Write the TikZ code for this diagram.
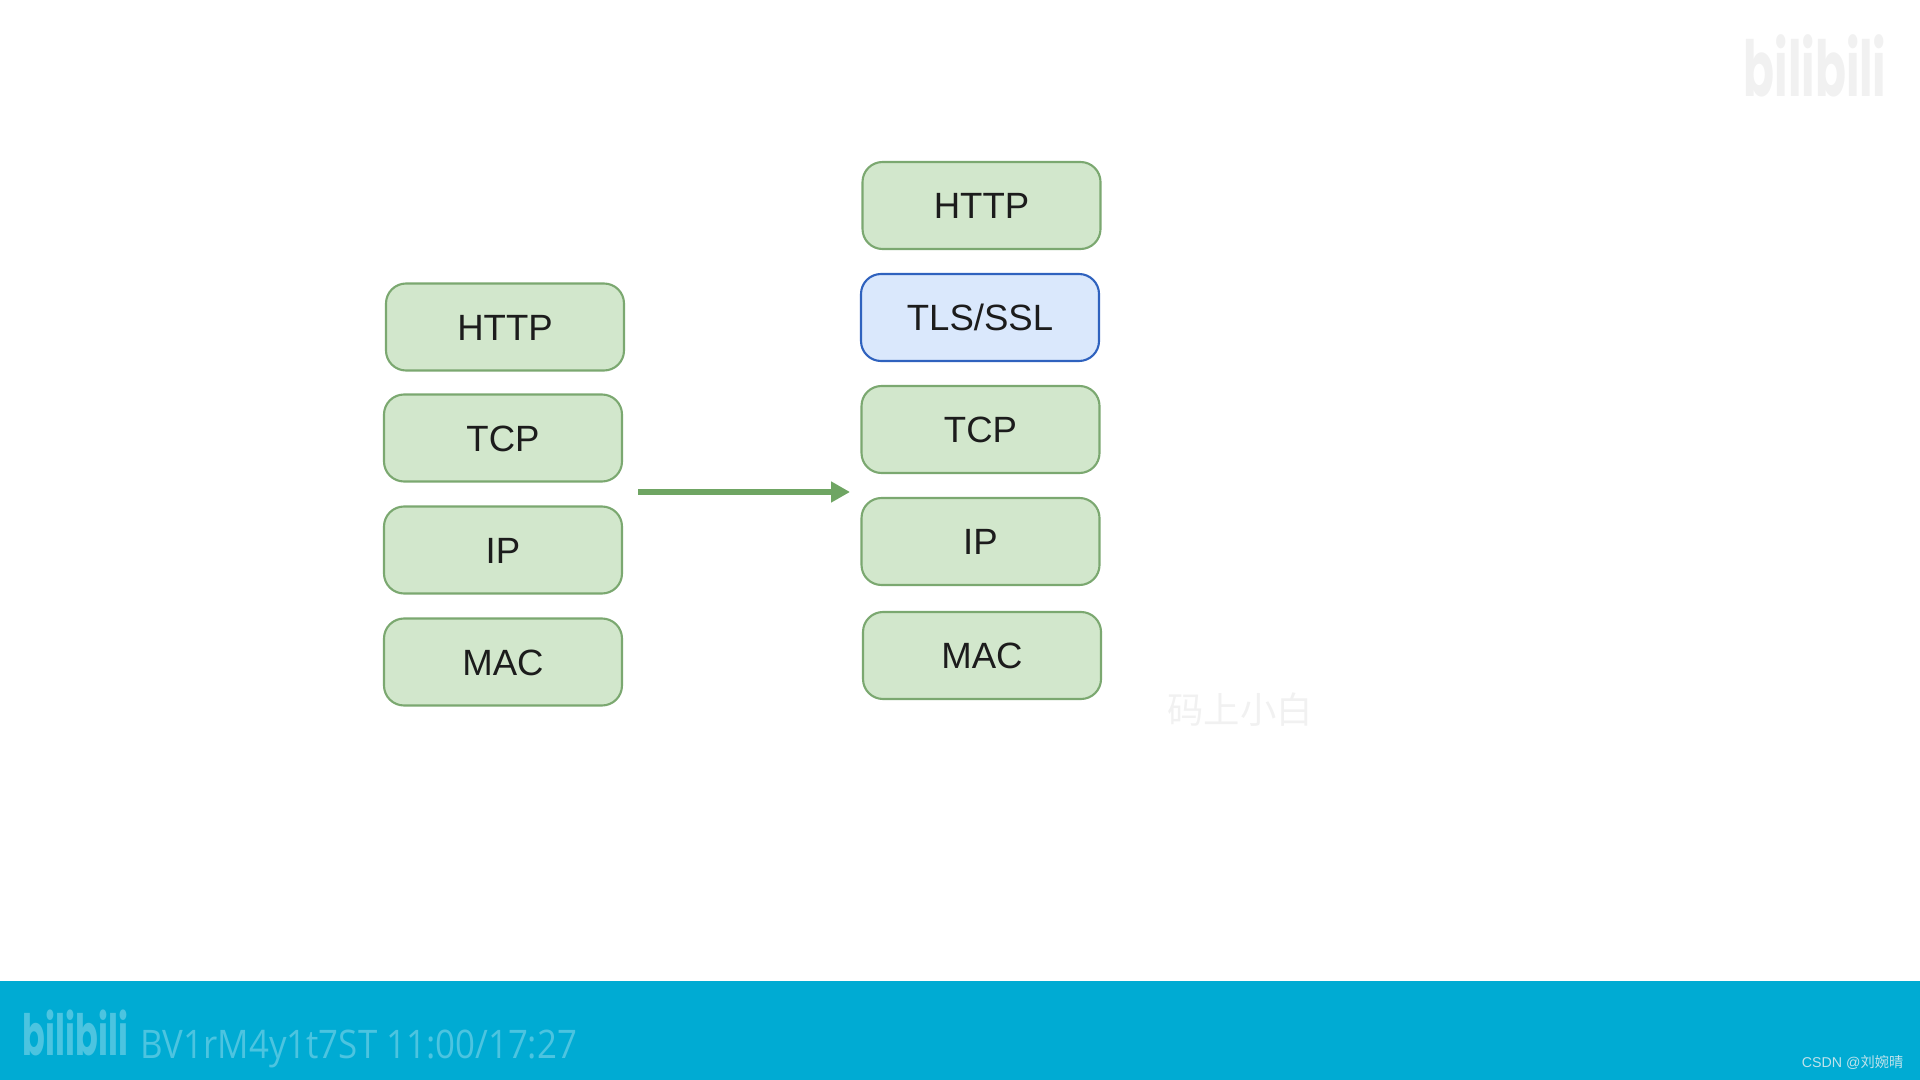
\documentclass[tikz,border=0pt]{standalone}
\usepackage{xcolor}
\usepackage{fontspec}
\setmainfont{Liberation Sans}
\newfontfamily\cjkfont{Noto Sans CJK SC}
\newfontfamily\thinfont[FakeStretch=0.885]{Open Sans}
\newfontfamily\logofont[FakeStretch=0.59]{Poppins}
\usetikzlibrary{positioning, arrows.meta}
\definecolor{layergreen}{HTML}{D2E7CC}
\definecolor{layeredge}{HTML}{7BA870}
\definecolor{tlsblue}{HTML}{DAE8FC}
\definecolor{tlsedge}{HTML}{2F62BE}
\definecolor{arrowgreen}{HTML}{6FA563}
\definecolor{barblue}{HTML}{00ABD3}
\definecolor{bartext}{HTML}{4CC4E0}
\definecolor{marktext}{HTML}{F1F1F1}
\definecolor{inktext}{HTML}{1C1C1C}
\definecolor{csdntext}{HTML}{BFE3EC}

\begin{document}
\begin{tikzpicture}[
      layerbox/.style={rectangle, rounded corners=0.2cm, draw=layeredge, fill=layergreen, line width=0.6pt,
        minimum width=2.38cm, minimum height=0.87cm, inner sep=0pt, outer sep=0pt, text=inktext,
        font=\fontsize{10.4}{12}\selectfont, text height=7.6pt, text depth=0pt},
      tlsbox/.style={layerbox, draw=tlsedge, fill=tlsblue},
      myarrow/.style={-{Triangle[length=0.19cm, width=0.2cm]}, line width=1.6pt, color=arrowgreen},
      logotext/.style={inner sep=0pt, font=\logofont\bfseries\fontsize{#1}{#1}\selectfont}
    ]
    \useasboundingbox (0,0) rectangle (19.2,-10.8);
    % Bottom bar
    \fill[barblue] (0,-9.81) rectangle (19.2,-10.8);
    % Left stack
    \node[layerbox] (lhttp) at (5.05,-3.27) {HTTP};
    \node[layerbox, below=0.24cm of lhttp, xshift=-0.02cm] (ltcp) {TCP};
    \node[layerbox, below=0.25cm of ltcp] (lip) {IP};
    \node[layerbox, below=0.25cm of lip] (lmac) {MAC};
    % Right stack
    \node[layerbox] (rhttp) at (9.815,-2.055) {HTTP};
    \node[tlsbox, below=0.25cm of rhttp, xshift=-0.015cm] (rtls) {TLS/SSL};
    \node[layerbox, below=0.25cm of rtls, xshift=0.005cm] (rtcp) {TCP};
    \node[layerbox, below=0.25cm of rtcp] (rip) {IP};
    \node[layerbox, below=0.27cm of rip, xshift=0.015cm] (rmac) {MAC};
    % Arrow between the stacks
    \coordinate (arrowstart) at (6.38,-4.92);
    \coordinate (arrowend) at (8.50,-4.92);
    \draw[myarrow] (arrowstart) -- (arrowend);
    % Watermarks
    \node[inner sep=0pt, text=marktext, font=\cjkfont\fontsize{10.35}{12}\selectfont] (midmark) at (12.40,-7.10) {码上小白};
    \node[logotext=22, text=marktext] (toplogo) at (18.15,-0.66) {bilibili};
    % Bar texts
    \node[logotext=16.2, text=bartext] (barlogo) at (0.755,-10.33) {bilibili};
    \node[inner sep=0pt, text=bartext, font=\thinfont\fontsize{11.2}{12}\selectfont, anchor=base west] (bvtext) at (1.40,-10.58) {BV1rM4y1t7ST 11:00/17:27};
    \node[inner sep=0pt, text=csdntext, font=\fontsize{4.05}{5}\selectfont, anchor=east] (csdn) at (19.04,-10.62) {CSDN @{\cjkfont 刘婉晴}};
    \end{tikzpicture}
\end{document}
